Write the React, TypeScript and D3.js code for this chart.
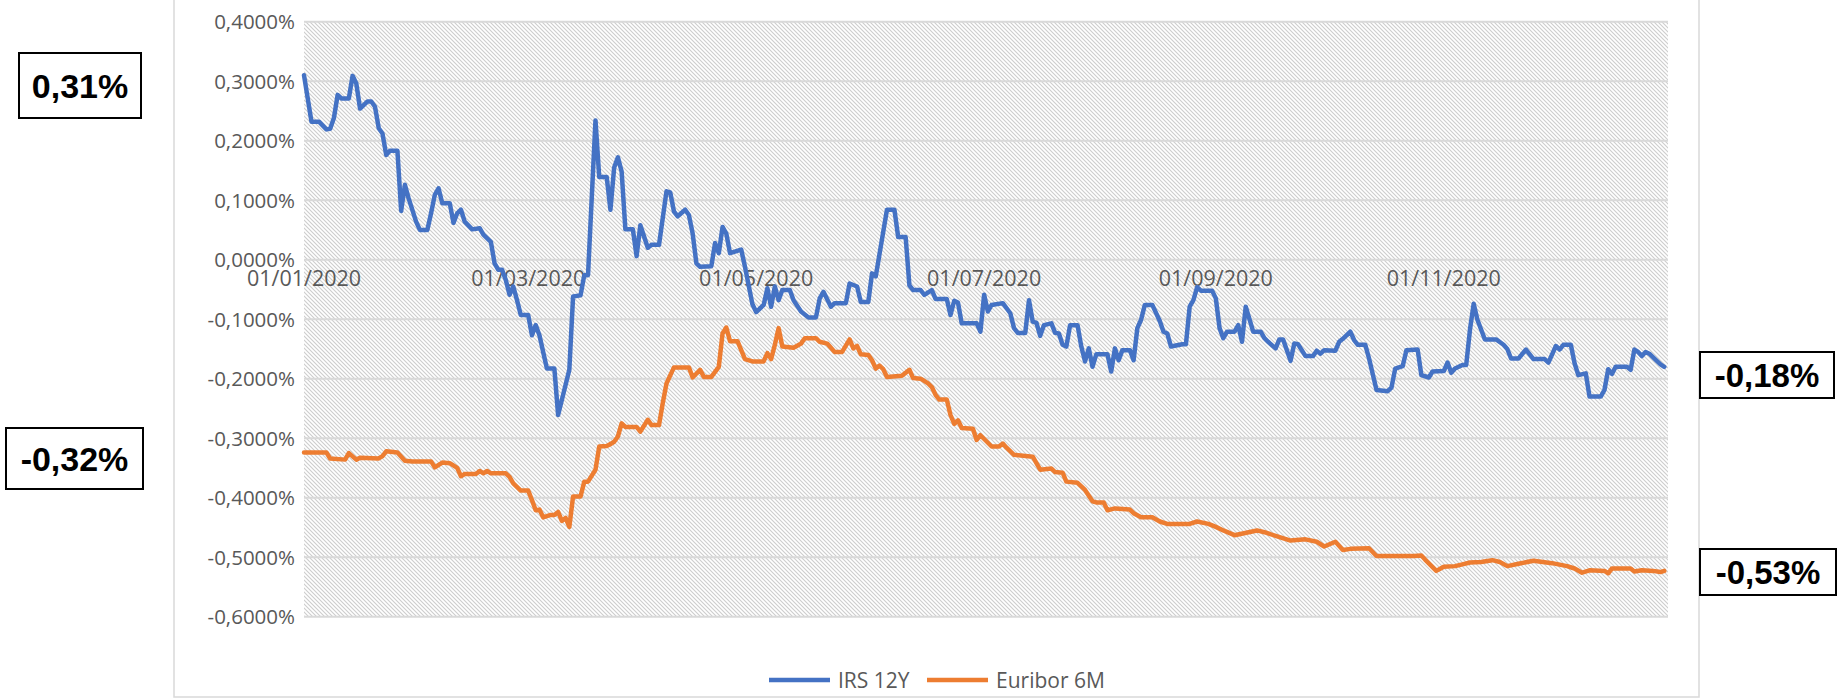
import { useEffect, useRef } from "react";
import * as d3 from "d3";

const WIDTH = 1838;
const HEIGHT = 699;
const PLOT = { left: 304, right: 1668, top: 21.7, bottom: 616.7 };
const FRAME = { left: 174, right: 1699, bottom: 697 };

// day offsets counted from 01/01/2020, values in %
const irsDay = [
  0, 2, 4, 6, 7, 8, 9, 10, 12, 13, 14, 15, 17, 18, 19, 20, 21, 22, 23, 25, 26, 27, 28, 30, 31, 33, 34, 35, 36, 37,
  39, 40, 41, 42, 43, 45, 47, 48, 50, 51, 52, 53, 54, 55, 56, 57, 58, 60, 61, 62, 63, 64, 65, 67, 68, 71, 72, 74, 75,
  76, 78, 79, 81, 82, 83, 84, 85, 86, 88, 89, 90, 92, 93, 95, 97, 98, 99, 100, 102, 103, 104, 105, 106, 109, 110, 111,
  112, 113, 114, 117, 118, 120, 121, 123, 124, 125, 126, 127, 128, 130, 131, 133, 135, 137, 138, 139, 141, 142, 145,
  146, 148, 149, 151, 152, 153, 156, 158, 159, 161, 162, 163, 165, 166, 168, 169, 172, 173, 174, 175, 176, 180, 181,
  182, 183, 184, 187, 189, 190, 191, 193, 194, 195, 196, 197, 198, 200, 201, 202, 203, 204, 205, 207, 208, 209, 210,
  211, 212, 215, 216, 217, 218, 219, 221, 222, 223, 224, 225, 227, 229, 230, 231, 232, 235, 236, 237, 238, 239, 240,
  243, 244, 245, 246, 247, 249, 250, 251, 252, 254, 256, 257, 258, 260, 261, 262, 264, 265, 266, 268, 270, 271, 272,
  273, 276, 277, 278, 280, 281, 282, 284, 285, 287, 290, 291, 292, 294, 295, 298, 299, 301, 302, 305, 306, 307, 308,
  310, 311, 312, 313, 314, 316, 319, 321, 322, 323, 325, 327, 329, 332, 333, 335, 336, 337, 339, 340, 341, 343, 344,
  347, 348, 349, 350, 351, 354, 355, 356, 357, 358, 359, 360, 362, 363, 364,
];
const irsValue = [
  0.31, 0.232, 0.232, 0.219, 0.22, 0.238, 0.277, 0.271, 0.271, 0.309, 0.296, 0.254, 0.266, 0.266, 0.257, 0.221, 0.212,
  0.176, 0.183, 0.183, 0.082, 0.126, 0.103, 0.064, 0.05, 0.05, 0.078, 0.109, 0.12, 0.095, 0.095, 0.062, 0.078, 0.084,
  0.064, 0.051, 0.053, 0.042, 0.03, -0.006, -0.017, -0.017, -0.034, -0.059, -0.045, -0.068, -0.093, -0.093, -0.127,
  -0.11, -0.127, -0.155, -0.183, -0.183, -0.261, -0.185, -0.062, -0.06, -0.026, -0.026, 0.234, 0.139, 0.139, 0.084,
  0.155, 0.172, 0.148, 0.051, 0.051, 0.006, 0.058, 0.02, 0.025, 0.025, 0.115, 0.113, 0.081, 0.073, 0.084, 0.075,
  0.044, -0.006, -0.012, -0.011, 0.028, 0.011, 0.055, 0.044, 0.011, 0.017, -0.012, -0.075, -0.088, -0.076, -0.048,
  -0.079, -0.045, -0.068, -0.051, -0.051, -0.068, -0.087, -0.097, -0.097, -0.065, -0.054, -0.079, -0.073, -0.073,
  -0.04, -0.045, -0.071, -0.071, -0.023, -0.028, 0.084, 0.084, 0.038, 0.038, -0.043, -0.051, -0.051, -0.059, -0.051,
  -0.066, -0.066, -0.093, -0.069, -0.072, -0.107, -0.107, -0.121, -0.059, -0.087, -0.076, -0.073, -0.09, -0.115,
  -0.123, -0.123, -0.068, -0.104, -0.106, -0.128, -0.11, -0.107, -0.123, -0.124, -0.143, -0.146, -0.11, -0.11, -0.146,
  -0.171, -0.149, -0.18, -0.159, -0.159, -0.188, -0.149, -0.169, -0.152, -0.152, -0.169, -0.115, -0.101, -0.076,
  -0.076, -0.103, -0.121, -0.124, -0.146, -0.142, -0.142, -0.079, -0.068, -0.046, -0.052, -0.052, -0.065, -0.115,
  -0.132, -0.121, -0.121, -0.11, -0.138, -0.079, -0.121, -0.121, -0.132, -0.138, -0.149, -0.134, -0.134, -0.17,
  -0.141, -0.142, -0.162, -0.162, -0.153, -0.158, -0.152, -0.153, -0.138, -0.133, -0.121, -0.135, -0.143, -0.143,
  -0.166, -0.219, -0.221, -0.215, -0.183, -0.179, -0.152, -0.151, -0.194, -0.198, -0.188, -0.187, -0.173, -0.19,
  -0.183, -0.177, -0.177, -0.118, -0.074, -0.101, -0.134, -0.134, -0.143, -0.15, -0.166, -0.166, -0.151, -0.167,
  -0.167, -0.173, -0.145, -0.151, -0.143, -0.143, -0.174, -0.194, -0.191, -0.23, -0.23, -0.219, -0.184, -0.192, -0.18,
  -0.18, -0.185, -0.151, -0.155, -0.162, -0.155, -0.158, -0.17, -0.176, -0.18,
];

const euriborDay = [
  0, 6, 7, 11, 12, 14, 15, 20, 21, 22, 25, 27, 29, 34, 35, 37, 39, 41, 42, 43, 46, 47, 48, 49, 50, 54, 55, 56, 58, 60,
  61, 62, 63, 64, 66, 67, 68, 69, 70, 71, 72, 74, 75, 76, 78, 79, 81, 82, 83, 84, 85, 86, 89, 90, 92, 93, 95, 96, 97,
  99, 103, 104, 106, 107, 109, 111, 112, 113, 114, 116, 117, 118, 120, 123, 124, 125, 126, 127, 128, 131, 133, 134,
  137, 138, 140, 142, 144, 146, 147, 148, 149, 151, 152, 153, 154, 155, 156, 160, 162, 163, 165, 167, 168, 169, 170,
  172, 173, 174, 175, 176, 179, 180, 181, 184, 186, 187, 188, 190, 195, 197, 200, 201, 203, 204, 207, 209, 211, 212,
  214, 215, 217, 221, 222, 224, 227, 229, 231, 237, 239, 242, 244, 246, 249, 255, 257, 260, 264, 268, 271, 273, 276,
  278, 280, 285, 287, 297, 299, 300, 303, 305, 308, 310, 312, 315, 318, 320, 322, 325, 329, 334, 338, 340, 342, 344,
  348, 349, 350, 355, 356, 358, 361, 363, 364,
];
const euriborValue = [
  -0.324, -0.324, -0.334, -0.336, -0.325, -0.336, -0.333, -0.334, -0.33, -0.322, -0.324, -0.338, -0.339, -0.339,
  -0.349, -0.341, -0.342, -0.35, -0.364, -0.36, -0.36, -0.355, -0.359, -0.355, -0.359, -0.359, -0.365, -0.376, -0.388,
  -0.388, -0.404, -0.421, -0.42, -0.433, -0.429, -0.429, -0.424, -0.439, -0.434, -0.449, -0.398, -0.398, -0.373,
  -0.373, -0.353, -0.314, -0.313, -0.31, -0.306, -0.297, -0.275, -0.281, -0.281, -0.289, -0.269, -0.278, -0.278,
  -0.241, -0.208, -0.181, -0.181, -0.198, -0.185, -0.197, -0.197, -0.18, -0.124, -0.114, -0.137, -0.137, -0.152,
  -0.167, -0.171, -0.171, -0.157, -0.167, -0.143, -0.115, -0.146, -0.148, -0.141, -0.132, -0.132, -0.138, -0.141,
  -0.155, -0.155, -0.134, -0.149, -0.145, -0.159, -0.16, -0.169, -0.183, -0.178, -0.184, -0.197, -0.195, -0.185,
  -0.199, -0.2, -0.208, -0.214, -0.227, -0.235, -0.235, -0.261, -0.276, -0.27, -0.283, -0.284, -0.303, -0.295, -0.314,
  -0.314, -0.309, -0.316, -0.328, -0.331, -0.353, -0.351, -0.357, -0.358, -0.373, -0.375, -0.387, -0.406, -0.408,
  -0.408, -0.421, -0.418, -0.42, -0.426, -0.433, -0.433, -0.44, -0.444, -0.444, -0.44, -0.444, -0.449, -0.455, -0.463,
  -0.455, -0.458, -0.464, -0.472, -0.47, -0.474, -0.482, -0.474, -0.488, -0.486, -0.485, -0.498, -0.498, -0.497,
  -0.504, -0.523, -0.516, -0.515, -0.512, -0.509, -0.508, -0.505, -0.508, -0.515, -0.511, -0.506, -0.51, -0.515,
  -0.519, -0.526, -0.522, -0.523, -0.527, -0.519, -0.519, -0.524, -0.522, -0.523, -0.525, -0.523,
];

const yTicks = [0.4, 0.3, 0.2, 0.1, 0, -0.1, -0.2, -0.3, -0.4, -0.5, -0.6];
const xTickDates = ["2020-01-01", "2020-03-01", "2020-05-01", "2020-07-01", "2020-09-01", "2020-11-01"];
const seriesNames = ["IRS 12Y", "Euribor 6M"];
const seriesColors = ["#4472C4", "#ED7D31"];
const calloutTexts = ["0,31%", "-0,32%", "-0,18%", "-0,53%"];

// callout box geometry (x, y, w, h, font size)
const CALLOUT_BOXES = [
  [19, 53, 122, 65, 34],
  [6, 428, 137, 61, 34],
  [1700, 352, 134, 46, 33],
  [1700, 549, 136, 46, 33],
];

const itFormat = d3.formatLocale({
  decimal: ",",
  thousands: ".",
  grouping: [3],
  currency: ["", "€"],
  minus: "-",
}).format(".4f");

const parseDay = d3.timeParse("%Y-%m-%d");
const fmtDay = d3.timeFormat("%d/%m/%Y");

const App = () => {
  const svgRef = useRef(null);

  useEffect(() => {
    const svg = d3.select(svgRef.current);
    svg.selectAll("*").remove();

    const start = new Date(2020, 0, 1);
    const xScale = d3
      .scaleTime()
      .domain([start, new Date(2020, 11, 31)])
      .range([PLOT.left, PLOT.right]);
    const yScale = d3.scaleLinear().domain([-0.6, 0.4]).range([PLOT.bottom, PLOT.top]);

    // hatch pattern for plot background
    const defs = svg.append("defs");
    const pattern = defs
      .append("pattern")
      .attr("id", "hatch")
      .attr("patternUnits", "userSpaceOnUse")
      .attr("width", 4)
      .attr("height", 4);
    pattern.append("rect").attr("width", 4).attr("height", 4).attr("fill", "#ffffff");
    pattern
      .append("path")
      .attr("d", "M-1,-1 L5,5 M-1,3 L1,5 M3,-1 L5,1")
      .attr("stroke", "#cdcdcd")
      .attr("stroke-width", 1.1);

    svg.append("rect").attr("width", WIDTH).attr("height", HEIGHT).attr("fill", "#ffffff");

    // chart frame
    svg
      .append("path")
      .attr(
        "d",
        `M${FRAME.left},0 L${FRAME.left},${FRAME.bottom} L${FRAME.right},${FRAME.bottom} L${FRAME.right},0`
      )
      .attr("fill", "none")
      .attr("stroke", "#d9d9d9")
      .attr("stroke-width", 1.5);

    svg
      .append("rect")
      .attr("x", PLOT.left)
      .attr("y", PLOT.top)
      .attr("width", PLOT.right - PLOT.left)
      .attr("height", PLOT.bottom - PLOT.top)
      .attr("fill", "url(#hatch)");

    // gridlines
    svg
      .append("g")
      .selectAll("line")
      .data(yTicks)
      .join("line")
      .attr("x1", PLOT.left)
      .attr("x2", PLOT.right)
      .attr("y1", (d) => yScale(d))
      .attr("y2", (d) => yScale(d))
      .attr("stroke", "#d9d9d9")
      .attr("stroke-width", 2);

    // y labels
    svg
      .append("g")
      .selectAll("text")
      .data(yTicks)
      .join("text")
      .attr("x", 295)
      .attr("y", (d) => yScale(d))
      .attr("dy", "0.36em")
      .attr("text-anchor", "end")
      .attr("font-family", "'Open Sans', sans-serif")
      .attr("font-size", 20.5)
      .attr("fill", "#595959")
      .text((d) => itFormat(Math.abs(d) < 1e-9 ? 0 : d) + "%");

    // x labels sit just below the zero line
    svg
      .append("g")
      .selectAll("text")
      .data(xTickDates.map((s) => parseDay(s)))
      .join("text")
      .attr("x", (d) => xScale(d))
      .attr("y", yScale(0) + 26.5)
      .attr("text-anchor", "middle")
      .attr("font-family", "'Open Sans', sans-serif")
      .attr("font-size", 21.5)
      .attr("fill", "#595959")
      .text((d) => fmtDay(d));

    const series = [
      { name: seriesNames[0], color: seriesColors[0], days: irsDay, values: irsValue },
      { name: seriesNames[1], color: seriesColors[1], days: euriborDay, values: euriborValue },
    ];

    const lineBuilder = d3
      .line()
      .x((d) => xScale(d3.timeDay.offset(start, d[0])))
      .y((d) => yScale(d[1]));

    svg
      .append("g")
      .selectAll("path")
      .data(series)
      .join("path")
      .attr("d", (s) => lineBuilder(s.days.map((day, i) => [day, s.values[i]])))
      .attr("fill", "none")
      .attr("stroke", (s) => s.color)
      .attr("stroke-width", 4.5)
      .attr("stroke-linejoin", "round")
      .attr("stroke-linecap", "round");

    // legend
    const legendX = [769, 927];
    const legend = svg
      .append("g")
      .selectAll("g")
      .data(series)
      .join("g")
      .attr("transform", (_, i) => `translate(${legendX[i]}, 680)`);
    legend
      .append("line")
      .attr("x1", 0)
      .attr("x2", 61)
      .attr("stroke", (s) => s.color)
      .attr("stroke-width", 4.5);
    legend
      .append("text")
      .attr("x", 69)
      .attr("dy", "0.36em")
      .attr("font-family", "'Open Sans', sans-serif")
      .attr("font-size", 21)
      .attr("fill", "#595959")
      .text((s) => s.name);

    // value callouts
    const callout = svg
      .append("g")
      .selectAll("g")
      .data(calloutTexts)
      .join("g");
    callout
      .append("rect")
      .attr("x", (_, i) => CALLOUT_BOXES[i][0])
      .attr("y", (_, i) => CALLOUT_BOXES[i][1])
      .attr("width", (_, i) => CALLOUT_BOXES[i][2])
      .attr("height", (_, i) => CALLOUT_BOXES[i][3])
      .attr("fill", "#ffffff")
      .attr("stroke", "#000000")
      .attr("stroke-width", 2);
    callout
      .append("text")
      .attr("x", (_, i) => CALLOUT_BOXES[i][0] + CALLOUT_BOXES[i][2] / 2)
      .attr("y", (_, i) => CALLOUT_BOXES[i][1] + CALLOUT_BOXES[i][3] / 2)
      .attr("dy", "0.36em")
      .attr("text-anchor", "middle")
      .attr("font-family", "'Liberation Sans', Arial, sans-serif")
      .attr("font-weight", 700)
      .attr("font-size", (_, i) => CALLOUT_BOXES[i][4])
      .attr("fill", "#000000")
      .text((d) => d);
  }, []);

  return (
    <svg
      ref={svgRef}
      width={WIDTH}
      height={HEIGHT}
      style={{ position: "absolute", left: 0, top: 0, display: "block" }}
    ></svg>
  );
};

export default App;
